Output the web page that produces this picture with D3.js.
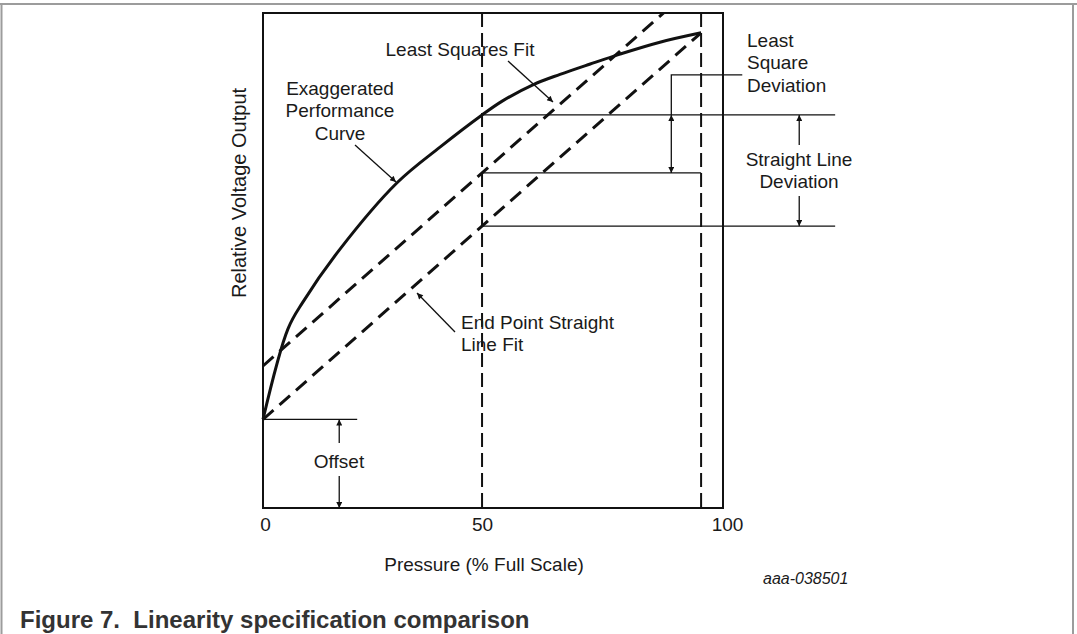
<!DOCTYPE html>
<html>
<head>
<meta charset="utf-8">
<script src="https://cdn.jsdelivr.net/npm/d3@7"></script>
<style>
  body { margin: 0; background: #fff; }
  text { font-family: Arial, "Liberation Sans", sans-serif; fill: #1a1a1a; }
</style>
</head>
<body>
<div id="chart"></div>
<script>
// performance curve, % full scale vs relative output
const curveP = [0, 5.7, 9.1, 17.4, 30.6, 40.4, 50, 54.6, 61.6, 67.8, 74.7, 81.5, 90.6, 100]
const curveV = [17.9, 36.2, 41.6, 52.1, 65.7, 72.9, 79.4, 82.2, 85.5, 87.6, 89.7, 91.7, 94.1, 96.0]
// least squares fit line, two points
const lsqP = [0, 50]
const lsqV = [28.7, 67.7]
// dashed reference lines
const markerP = [50, 100]
const xTicks = [0, 50, 105]
const xTickLabels = ['0', '50', '100']

const width = 1077
const height = 634

const svg = d3.select('#chart')
  .append('svg')
  .attr('width', width)
  .attr('height', height)

const x = d3.scaleLinear().domain([0, 105]).range([263, 723])
const y = d3.scaleLinear().domain([0, 100]).range([508, 13])

// page frame
svg.append('line').attr('x1', 0).attr('x2', width).attr('y1', 4).attr('y2', 4)
  .attr('stroke', '#9c9c9c').attr('stroke-width', 2)
svg.append('line').attr('x1', 1.5).attr('x2', 1.5).attr('y1', 4).attr('y2', height)
  .attr('stroke', '#9c9c9c').attr('stroke-width', 2)
svg.append('line').attr('x1', 1073).attr('x2', 1073).attr('y1', 4).attr('y2', height)
  .attr('stroke', '#9c9c9c').attr('stroke-width', 2)

const defs = svg.append('defs')
defs.append('marker')
  .attr('id', 'arrow')
  .attr('viewBox', '0 0 10 10')
  .attr('refX', 10).attr('refY', 5)
  .attr('markerUnits', 'userSpaceOnUse')
  .attr('markerWidth', 10).attr('markerHeight', 6)
  .attr('orient', 'auto')
  .append('path').attr('d', 'M0,0 L10,5 L0,10 z').attr('fill', '#111')

defs.append('clipPath').attr('id', 'plot-clip')
  .append('rect')
  .attr('x', x(0)).attr('y', y(100))
  .attr('width', x(105) - x(0)).attr('height', y(0) - y(100))

const curve = curveP.map((p, i) => [p, curveV[i]])
const offset = curveV[0]
const endV = curveV[curveV.length - 1]
const endFit = p => offset + (endV - offset) * p / 100
const lsqSlope = (lsqV[1] - lsqV[0]) / (lsqP[1] - lsqP[0])
const lsqFit = p => lsqV[0] + lsqSlope * (p - lsqP[0])
const curveAt50 = curveV[curveP.indexOf(50)]

const line = d3.line().x(d => x(d[0])).y(d => y(d[1]))

// thin level lines
const thin = svg.append('g').attr('stroke', '#111').attr('stroke-width', 1.3).attr('fill', 'none')
thin.append('line').attr('x1', x(50)).attr('x2', x(130.6)).attr('y1', y(curveAt50)).attr('y2', y(curveAt50))
thin.append('line').attr('x1', x(50)).attr('x2', x(100)).attr('y1', y(lsqFit(50))).attr('y2', y(lsqFit(50)))
thin.append('line').attr('x1', x(50)).attr('x2', x(130.6)).attr('y1', y(endFit(50))).attr('y2', y(endFit(50)))
thin.append('line').attr('x1', x(0)).attr('x2', x(21.5)).attr('y1', y(offset)).attr('y2', y(offset))
// least square deviation bracket
thin.append('path').attr('d', line([[109.4, 87.5], [93.2, 87.5], [93.2, curveAt50]]))

// arrows
const arrow = (x1, y1, x2, y2) => svg.append('line')
  .attr('x1', x1).attr('y1', y1).attr('x2', x2).attr('y2', y2)
  .attr('stroke', '#111').attr('stroke-width', 1.3)
  .attr('marker-end', 'url(#arrow)')

arrow(x(93.2), y(curveAt50) + 28, x(93.2), y(curveAt50))
arrow(x(93.2), y(curveAt50) + 28, x(93.2), y(lsqFit(50)))
arrow(x(122.4), 145, x(122.4), y(curveAt50))
arrow(x(122.4), 196, x(122.4), y(endFit(50)))
arrow(x(17.4), 443, x(17.4), y(offset))
arrow(x(17.4), 476, x(17.4), y(0))
arrow(508, 61, 553, 102)
arrow(355, 145, 396, 182)
arrow(455, 332, 417, 293)

// vertical dashed markers
svg.append('g').selectAll('line')
  .data(markerP)
  .join('line')
  .attr('x1', d => x(d)).attr('x2', d => x(d))
  .attr('y1', y(100)).attr('y2', y(0))
  .attr('stroke', '#111').attr('stroke-width', 2)
  .attr('stroke-dasharray', '14,6')

// fit lines
const fits = svg.append('g').attr('clip-path', 'url(#plot-clip)')
  .attr('stroke', '#111').attr('stroke-width', 3).attr('fill', 'none')
  .attr('stroke-dasharray', '14,8')
fits.append('path').attr('d', line([[0, endFit(0)], [100, endFit(100)]]))
fits.append('path').attr('d', line([[0, lsqFit(0)], [100, lsqFit(100)]]))

// performance curve
svg.append('path')
  .attr('d', line.curve(d3.curveCatmullRom.alpha(0.5))(curve))
  .attr('fill', 'none').attr('stroke', '#111').attr('stroke-width', 3)
  .attr('stroke-linejoin', 'round')

// plot frame
svg.append('rect')
  .attr('x', x(0)).attr('y', y(100))
  .attr('width', x(105) - x(0)).attr('height', y(0) - y(100))
  .attr('fill', 'none').attr('stroke', '#111').attr('stroke-width', 2)

// x axis labels
const xAxis = svg.append('g')
  .attr('transform', `translate(0,${y(0)})`)
  .call(d3.axisBottom(x).tickValues(xTicks).tickFormat((d, i) => xTickLabels[i]).tickSize(0).tickPadding(10))
xAxis.select('.domain').remove()
xAxis.selectAll('text').attr('font-size', 19).attr('font-family', 'Arial, "Liberation Sans", sans-serif').attr('fill', '#1a1a1a')
xAxis.selectAll('.tick').filter(d => d === 105).select('text').attr('dx', 4)
xAxis.selectAll('.tick').filter(d => d === 0).select('text').attr('dx', 2)

const label = (lines, tx, ty, anchor = 'middle', size = 19) => {
  const t = svg.append('text').attr('font-size', size).attr('text-anchor', anchor)
  lines.forEach((s, i) => t.append('tspan').attr('x', tx).attr('y', ty + i * 22.3).text(s))
  return t
}

label(['Least Squares Fit'], 460, 56)
label(['Exaggerated', 'Performance', 'Curve'], 340, 95)
label(['Least', 'Square', 'Deviation'], 747, 47, 'start')
label(['Straight Line', 'Deviation'], 799, 166)
label(['End Point Straight', 'Line Fit'], 461, 329, 'start')
label(['Offset'], 339, 468)
label(['Pressure (% Full Scale)'], 484, 571)

svg.append('text')
  .attr('transform', 'translate(246,193) rotate(-90)')
  .attr('text-anchor', 'middle')
  .attr('font-size', 20)
  .text('Relative Voltage Output')

svg.append('text')
  .attr('x', 763).attr('y', 584)
  .attr('font-size', 16).attr('font-style', 'italic')
  .text('aaa-038501')

svg.append('text')
  .attr('x', 20).attr('y', 628)
  .attr('font-size', 24).attr('font-weight', 'bold')
  .style('fill', '#333')
  .attr('xml:space', 'preserve')
  .style('white-space', 'pre')
  .text('Figure 7.  Linearity specification comparison')
</script>
</body>
</html>
